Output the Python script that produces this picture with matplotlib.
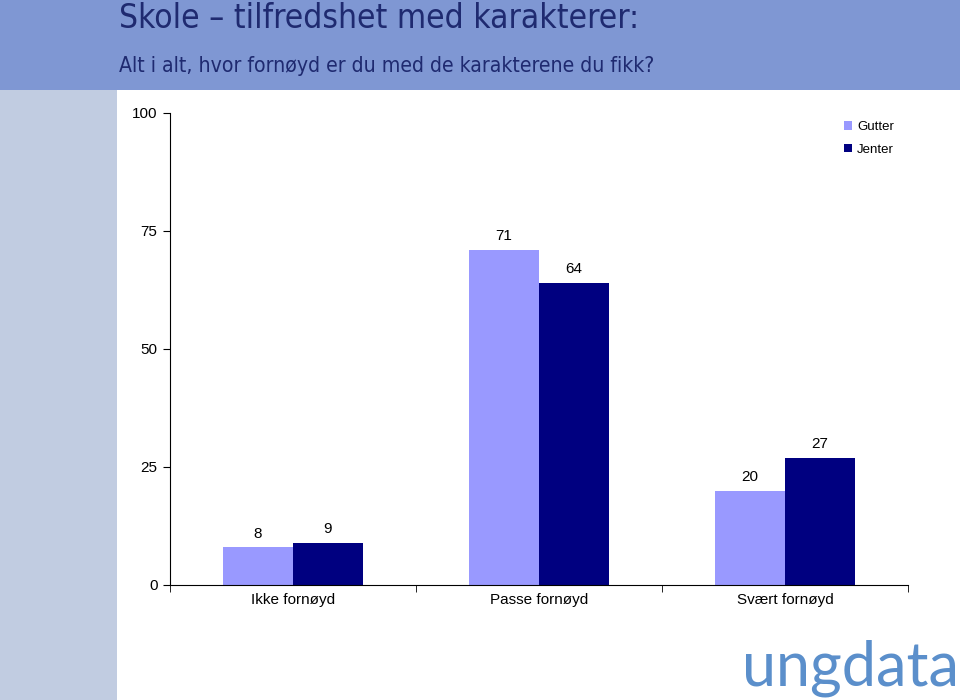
import numpy as np
import matplotlib.pyplot as plt
from matplotlib.patches import Rectangle

categories = ["Ikke fornøyd", "Passe fornøyd", "Svært fornøyd"]
gutter = [8, 71, 20]
jenter = [9, 64, 27]
series_names = ["Gutter", "Jenter"]
yticks = [0, 25, 50, 75, 100]

COLORS = {"gutter": "#9999FF", "jenter": "#000080"}

plt.rcParams["font.family"] = ["Liberation Sans", "DejaVu Sans"]

fig = plt.figure(figsize=(9.6, 7), dpi=100)

# header band and left strip
fig.patches.append(Rectangle((0, 1 - 90 / 700), 1, 90 / 700, transform=fig.transFigure,
                             facecolor="#7F97D3", edgecolor="none", zorder=0))
fig.patches.append(Rectangle((0, 0), 117 / 960, 1 - 90 / 700, transform=fig.transFigure,
                             facecolor="#C1CCE1", edgecolor="none", zorder=0))
fig.text(119 / 960, 1 - 18 / 700, "Skole \u2013 tilfredshet med karakterer:",
         family=["DejaVu Sans"], fontstretch="condensed",
         fontsize=24, color="#1F2A70", va="center", ha="left")
fig.text(119 / 960, 1 - 66 / 700, "Alt i alt, hvor fornøyd er du med de karakterene du fikk?",
         family=["DejaVu Sans"], fontstretch="condensed",
         fontsize=15.2, color="#1F2A70", va="center", ha="left")
fig.text(850 / 960, 1 - 668 / 700, "ungdata", fontsize=44, color="#5B8FCB",
         ha="center", va="center", family=["Lato", "DejaVu Sans"])

ax = fig.add_axes([170 / 960, 1 - 585 / 700, 738 / 960, 472 / 700])
x = np.arange(len(categories))
w = 70 / 246
b1 = ax.bar(x - w / 2, gutter, w, color=COLORS["gutter"], label=series_names[0])
b2 = ax.bar(x + w / 2, jenter, w, color=COLORS["jenter"], label=series_names[1])
for bars in (b1, b2):
    for r in bars:
        ax.text(r.get_x() + r.get_width() / 2, r.get_height() + 1.4, f"{r.get_height():g}",
                ha="center", va="bottom", fontsize=11)

ax.set_xlim(-0.5, len(categories) - 0.5)
ax.set_ylim(0, 100)
ax.set_yticks(yticks)
ax.set_xticks(x)
ax.set_xticklabels(categories, fontsize=11)
ax.set_xticks(np.arange(len(categories) + 1) - 0.5, minor=True)
ax.tick_params(axis="x", which="major", length=0, pad=6)
ax.tick_params(axis="x", which="minor", length=5, direction="out")
ax.tick_params(axis="y", length=5, labelsize=11, pad=4)
for s in ["top", "right"]:
    ax.spines[s].set_visible(False)

ax.legend(loc="upper left", bbox_to_anchor=(0.897, 1.008), frameon=False, fontsize=9.5,
          handlelength=0.6, handleheight=0.6, handletextpad=0.4, labelspacing=0.8)

fig.savefig("out.png", dpi=100)
